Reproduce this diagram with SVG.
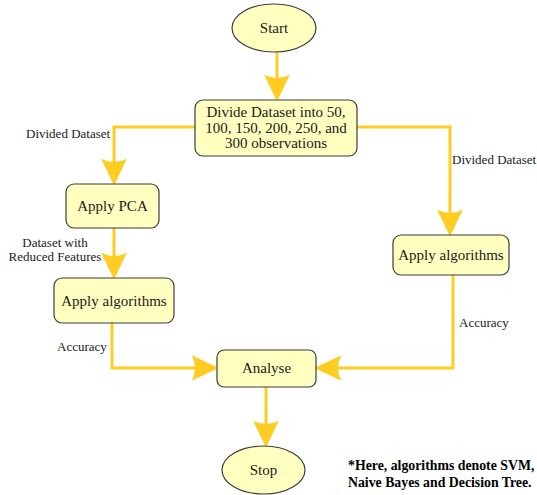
<svg xmlns="http://www.w3.org/2000/svg" width="537" height="495" viewBox="0 0 537 495">
<defs>
<style>
.node{fill:#ffffc0;stroke:#3c3c3c;stroke-width:1.2}
.lbl{font-family:"Liberation Serif",serif;font-size:15px;fill:#1a1a1a;text-anchor:middle}
.elbl{font-family:"Liberation Serif",serif;font-size:13px;fill:#1a1a1a}
.edge{fill:none;stroke:#ffcc22;stroke-width:3;marker-end:url(#arr)}
.note{font-family:"Liberation Serif",serif;font-size:13.8px;font-weight:bold;fill:#000}
</style>
<marker id="arr" markerUnits="userSpaceOnUse" markerWidth="30" markerHeight="30" viewBox="-1 -13 28 26" refX="4" refY="0" orient="auto">
<path d="M0,-12 L25,0 L0,12 Q6,0 0,-12 Z" fill="#ffcc22"/>
</marker>
</defs>
<rect width="537" height="495" fill="#fff"/>
<g id="connectors">
<path class="edge" d="M277,52 L277,79"/>
<path class="edge" d="M195,127 L114,127 L114,163"/>
<path class="edge" d="M114,228 L114,257"/>
<path class="edge" d="M357,127 L450,127 L450,214"/>
<path class="edge" d="M112,323 L112,368 L196,368"/>
<path class="edge" d="M453,275 L453,368 L337,368"/>
<path class="edge" d="M266,387 L266,425"/>
<text class="elbl" x="26" y="138">Divided Dataset</text>
<text class="elbl" x="452" y="164">Divided Dataset</text>
<text class="elbl" x="55" y="247" text-anchor="middle">Dataset with</text>
<text class="elbl" x="55" y="261" text-anchor="middle">Reduced Features</text>
<text class="elbl" x="57" y="351">Accuracy</text>
<text class="elbl" x="459" y="327">Accuracy</text>
</g>
<g id="start">
<ellipse class="node" cx="274" cy="28" rx="42" ry="24"/>
<text class="lbl" x="274" y="33">Start</text>
</g>
<g id="divide">
<rect class="node" x="195" y="100" width="162" height="56" rx="8"/>
<text class="lbl" x="276" y="117">Divide Dataset into 50,</text>
<text class="lbl" x="276" y="132.5">100, 150, 200, 250, and</text>
<text class="lbl" x="276" y="148">300 observations</text>
</g>
<g id="pca">
<rect class="node" x="66" y="184" width="93" height="44" rx="8"/>
<text class="lbl" x="112.5" y="211">Apply PCA</text>
</g>
<g id="alg-left">
<rect class="node" x="54" y="278" width="120" height="45" rx="8"/>
<text class="lbl" x="114" y="306">Apply algorithms</text>
</g>
<g id="alg-right">
<rect class="node" x="393" y="235" width="116" height="40" rx="8"/>
<text class="lbl" x="451" y="260">Apply algorithms</text>
</g>
<g id="analyse">
<rect class="node" x="217" y="350" width="99" height="37" rx="7"/>
<text class="lbl" x="266.5" y="373">Analyse</text>
</g>
<g id="stop">
<ellipse class="node" cx="263.5" cy="470" rx="41.5" ry="24"/>
<text class="lbl" x="263.5" y="475">Stop</text>
</g>
<g id="note">
<text class="note" x="348" y="470">*Here, algorithms denote SVM,</text>
<text class="note" x="348" y="487">Naive Bayes and Decision Tree.</text>
</g>
</svg>
